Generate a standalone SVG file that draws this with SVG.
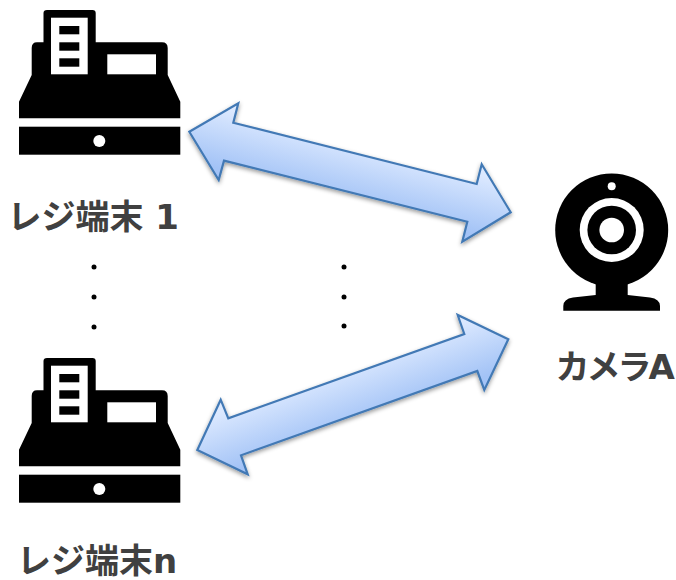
<svg xmlns="http://www.w3.org/2000/svg" xmlns:xlink="http://www.w3.org/1999/xlink" width="676" height="580" viewBox="0 0 676 580">
<style>
.lbl{font-family:"DejaVu Sans","Noto Sans CJK JP",sans-serif;font-weight:700;font-size:34px;fill:#404040}
.arrow{stroke:#4279b5;stroke-width:2.200;stroke-linejoin:miter;filter:url(#sh)}
.k{fill:#000}.w{fill:#fff}
</style>
<defs>
<filter id="sh" x="-10%" y="-10%" width="120%" height="130%"><feDropShadow dx="0" dy="2" stdDeviation="2" flood-color="#000" flood-opacity="0.4"/></filter>
<linearGradient id="g1" gradientUnits="userSpaceOnUse" x1="357" y1="142" x2="342" y2="200"><stop offset="0" stop-color="#dce9ff"/><stop offset="1" stop-color="#a3c3f6"/></linearGradient>
<linearGradient id="g2" gradientUnits="userSpaceOnUse" x1="337" y1="368" x2="358" y2="424"><stop offset="0" stop-color="#dce9ff"/><stop offset="1" stop-color="#a3c3f6"/></linearGradient>
<g id="reg">
<path class="k" d="M47 10H92.500Q95.700 10 95.700 13V42.300H162Q167.700 42.300 167.700 48V75L180.300 101.700V118.300H19V101.700L31.700 75V48Q31.700 42.300 37 42.300H43.500V13Q43.500 10 47 10Z"/>
<rect class="w" x="51" y="17.700" width="36.700" height="56.600"/>
<rect class="k" x="59.300" y="26" width="20" height="8.300"/>
<rect class="k" x="59.300" y="42.300" width="20" height="8.400"/>
<rect class="k" x="59.300" y="58.300" width="20" height="8.400"/>
<rect class="w" x="107.300" y="54.300" width="48.700" height="20"/>
<rect class="k" x="19" y="126.700" width="161.300" height="28"/>
<circle class="w" cx="99.300" cy="141" r="6"/>
</g>
</defs>
<g id="connectors">
<polygon class="arrow" fill="url(#g1)" points="189.300,131.700 238.300,103.300 233.300,122.700 476.700,184 481.700,164.300 510.700,212.300 462.300,241.700 467.300,221.700 224,160.700 218.700,180"/>
<polygon class="arrow" fill="url(#g2)" points="508.300,339.300 457.700,315 464.300,334 228.300,418.300 220.700,399.700 197.300,450 247.700,474.300 241,455.300 477.300,371 484.300,390"/>
</g>
<g id="register-1"><use xlink:href="#reg" href="#reg"/><text class="lbl" x="7.500" y="229">レジ端末 1</text></g>
<g id="register-n"><use xlink:href="#reg" href="#reg" y="348"/><text class="lbl" x="17" y="573">レジ端末n</text></g>
<g id="camera-a">
<path class="k" d="M595.700 280H627.700V295L650 297.500Q660 299 660 306V310.700H563.300V306Q563.300 299 573 297.500L595.700 295Z"/>
<circle class="k" cx="611.700" cy="230" r="56.500"/>
<circle class="w" cx="611.700" cy="186.300" r="4"/>
<circle class="w" cx="611.700" cy="230" r="32"/>
<circle class="k" cx="611.700" cy="230" r="24.300"/>
<circle class="w" cx="611.700" cy="230" r="12.300"/>
<text class="lbl" x="555.500" y="379" letter-spacing="-3">カメラA</text>
</g>
<g id="dots" class="k">
<circle cx="94" cy="267" r="2.500"/><circle cx="94" cy="297" r="2.500"/><circle cx="94" cy="327" r="2.500"/>
<circle cx="344" cy="267" r="2.500"/><circle cx="344" cy="297" r="2.500"/><circle cx="344" cy="326" r="2.500"/>
</g>
</svg>
